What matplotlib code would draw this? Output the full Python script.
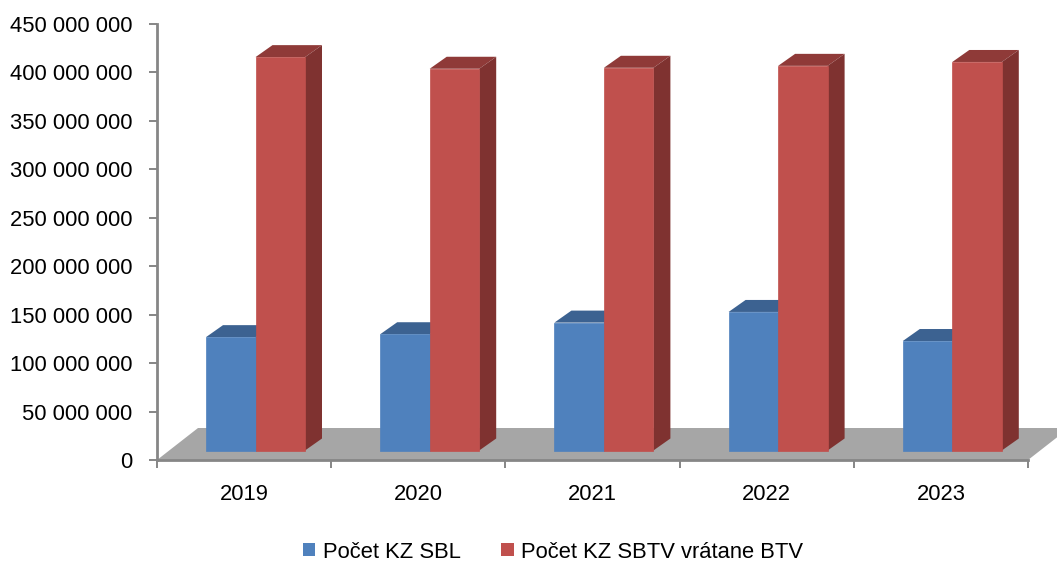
import matplotlib
matplotlib.use('Agg')
import matplotlib.pyplot as plt
from matplotlib.patches import Polygon, Patch

plt.rcParams['font.family'] = ['Liberation Sans', 'DejaVu Sans']

years = ['2019', '2020', '2021', '2022', '2023']
pocet_sbl = [117e6, 120e6, 132e6, 143e6, 113e6]
pocet_sbtv = [406e6, 394e6, 395e6, 397e6, 401e6]
y_ticks = [0, 50e6, 100e6, 150e6, 200e6, 250e6, 300e6, 350e6, 400e6, 450e6]

# plot area in pixels of the 1057x562 picture
W, H = 1057, 562
left, right, bottom, top = 157, 1028, 460, 24
fig = plt.figure(figsize=(W / 100, H / 100), dpi=100)
ax = fig.add_axes([left / W, 1 - bottom / H, (right - left) / W, (bottom - top) / H])
ax.set_xlim(0, len(years))
ax.set_ylim(0, 450e6)

# pixel -> data sizes
px_x = len(years) / (right - left)
px_y = 450e6 / (bottom - top)

# floor
fdx, fdy = 41 * px_x, 32 * px_y
floor = Polygon([(0, 0), (5, 0), (5 + fdx, fdy), (fdx, fdy)], closed=True, facecolor='#A6A6A6',
                edgecolor='none', clip_on=False, zorder=1)
ax.add_patch(floor)

bar_w = 49.5 * px_x
bar_off = 49 * px_x
base = 9.5 * px_y
dx, dy = 17 * px_x, 12 * px_y


def draw_bar(x0, val, col, col_top, col_side):
    y1 = base + val
    ax.add_patch(Polygon([(x0, y1), (x0 + bar_w, y1), (x0 + bar_w + dx, y1 + dy), (x0 + dx, y1 + dy)],
                         facecolor=col_top, edgecolor='none', clip_on=False, zorder=2))
    ax.add_patch(Polygon([(x0 + bar_w, base), (x0 + bar_w + dx, base + dy), (x0 + bar_w + dx, y1 + dy), (x0 + bar_w, y1)],
                         facecolor=col_side, edgecolor='none', clip_on=False, zorder=2))
    ax.bar(x0, val, bar_w, bottom=base, align='edge', color=col, edgecolor=col, linewidth=0.5,
           clip_on=False, zorder=3)


for i in range(len(years)):
    draw_bar(i + bar_off, pocet_sbl[i], '#4F81BD', '#3C6291', '#38608F')
    draw_bar(i + bar_off + bar_w, pocet_sbtv[i], '#C0504D', '#8F3A38', '#7F3230')

for s in ['top', 'right']:
    ax.spines[s].set_visible(False)
for s in ['left', 'bottom']:
    ax.spines[s].set_color('#868686')
    ax.spines[s].set_linewidth(2)
    ax.spines[s].set_zorder(5)

ax.set_yticks(y_ticks)
ax.set_yticklabels([f'{int(v):,}'.replace(',', ' ') for v in y_ticks])
ax.set_xticks(range(len(years) + 1))
ax.set_xticklabels([])
ax.set_xticks([i + 0.5 for i in range(len(years))], labels=years, minor=True)
ax.tick_params(axis='both', which='major', color='#868686', width=1.4, length=6, labelsize=15.8, pad=4)
ax.tick_params(axis='y', which='major', pad=12)
ax.tick_params(axis='x', which='minor', length=0, labelsize=15.8, pad=17)

handles = [Patch(facecolor='#4F81BD', label='Počet KZ SBL'),
           Patch(facecolor='#C0504D', label='Počet KZ SBTV vrátane BTV')]
fig.legend(handles=handles, loc='center', bbox_to_anchor=(553 / W, 1 - 552 / H), ncol=2, frameon=False,
           fontsize=15.8, handlelength=0.55, handleheight=0.55, handletextpad=0.36, columnspacing=1.87,
           borderpad=0, borderaxespad=0)

fig.savefig('out.png', dpi=100)
